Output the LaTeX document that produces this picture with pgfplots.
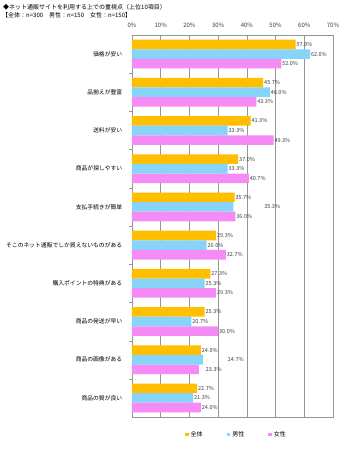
\documentclass[border=0pt]{standalone}
\usepackage{fontspec}
\setmainfont{Noto Sans CJK JP}
\usepackage{pgfplots}
\usepackage{pgfplotstable}
\pgfplotsset{compat=1.18}
\definecolor{cAll}{RGB}{255,190,0}
\definecolor{cMale}{RGB}{135,212,250}
\definecolor{cFemale}{RGB}{245,140,245}
\definecolor{gridc}{RGB}{150,150,150}
\definecolor{txt}{RGB}{60,60,60}
\pgfplotstableread{
y x lbl dx
0 57.0 57.0\% 0
1 45.7 45.7\% 0
2 41.3 41.3\% 0
3 37.0 37.0\% 0
4 35.7 35.7\% 0
5 29.3 29.3\% 0
6 27.3 27.3\% 0
7 25.3 25.3\% 0
8 24.0 24.0\% 0
9 22.7 22.7\% 0
}\dataAll
\pgfplotstableread{
y x lbl dx
0 62.0 62.0\% 0
1 48.0 48.0\% 0
2 33.3 33.3\% 0
3 33.3 33.3\% 0
4 35.3 35.3\% 30
5 26.0 26.0\% 0
6 25.3 25.3\% 0
7 20.7 20.7\% 0
8 24.7 24.7\% 24
9 21.3 21.3\% 0
}\dataMale
\pgfplotstableread{
y x lbl dx
0 52.0 52.0\% 0
1 43.3 43.3\% 0
2 49.3 49.3\% 0
3 40.7 40.7\% 0
4 36.0 36.0\% 0
5 32.7 32.7\% 0
6 29.3 29.3\% 0
7 30.0 30.0\% 0
8 23.3 23.3\% 6
9 24.0 24.0\% 0
}\dataFemale
\begin{document}
\begin{tikzpicture}
\begin{axis}[
  at={(0,0)}, anchor=south west,
  scale only axis, width=201pt, height=382pt,
  xbar, bar width=9.6pt,
  xmin=0, xmax=70, ymin=-0.5, ymax=9.5,
  y dir=reverse,
  xtick={0,10,...,70},
  xticklabel={\pgfmathprintnumber{\tick}\%},
  xticklabel pos=upper,
  xticklabel style={font=\fontsize{6}{7}\selectfont, text=txt},
  /pgf/number format/assume math mode=true,
  xmajorgrids, major grid style={gridc, line width=0.6pt},
  major x tick style={draw=none},
  ytick={0,...,9},
  yticklabels={価格が安い,品揃えが豊富,送料が安い,商品が探しやすい,支払手続きが簡単,そこのネット通販でしか買えないものがある,購入ポイントの特典がある,商品の発送が早い,商品の画像がある,商品の質が良い},
  yticklabel style={font=\fontsize{5.8}{7}\selectfont, text=black, xshift=-2pt},
  major y tick style={draw=none},
  minor ytick={0.5,1.5,...,8.5},
  minor tick length=3pt,
  minor y tick style={draw=gridc},
  ytick pos=left, tick align=outside,
  axis line style={gridc, line width=0.6pt},
  nodes near coords={\pgfplotspointmeta},
  point meta=explicit symbolic,
  visualization depends on={\thisrow{dx} \as \dx},
  every node near coord/.append style={font=\fontsize{5.5}{6}\selectfont, text=txt, inner sep=0.8pt, anchor=west, xshift=\dx pt},
  legend style={at={(0.52,0)}, anchor=north, yshift=-10pt, draw=none, fill=none,
    legend columns=3, font=\fontsize{6}{7}\selectfont,
    /tikz/every even column/.append style={column sep=22pt}},
  legend image code/.code={\fill[#1, draw=none] (0pt,-1.8pt) rectangle (3.6pt,1.8pt);},
]
\addplot[fill=cAll, draw=none, bar shift=9.6pt] table[x=x, y=y, meta=lbl] {\dataAll};
\addplot[fill=cMale, draw=none, bar shift=0pt] table[x=x, y=y, meta=lbl] {\dataMale};
\addplot[fill=cFemale, draw=none, bar shift=-9.6pt] table[x=x, y=y, meta=lbl] {\dataFemale};
\legend{全体,男性,女性}
\end{axis}
\node[anchor=west, font=\fontsize{6}{7}\selectfont, inner sep=0] at (-129pt,410pt) {◆ネット通販サイトを利用する上での重視点（上位10項目）};
\node[anchor=west, font=\fontsize{6}{7}\selectfont, inner sep=0] at (-130pt,402pt) {【全体：n=300　男性：n=150　女性：n=150】};
\path[use as bounding box] (-132pt,-33pt) rectangle (217pt,417pt);
\end{tikzpicture}
\end{document}
